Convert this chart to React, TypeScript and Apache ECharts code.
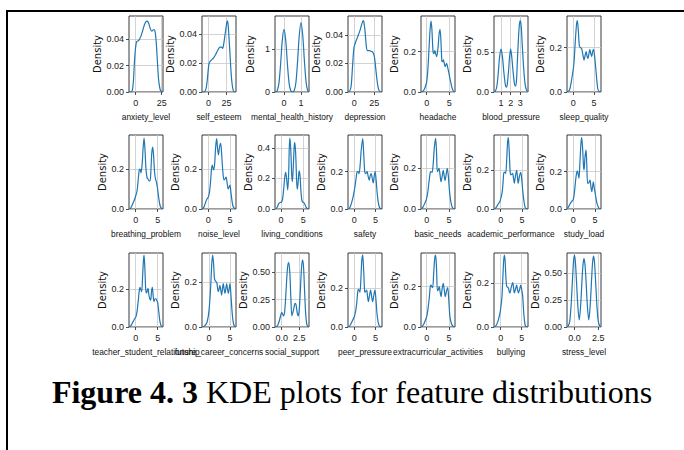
import React, { useEffect, useRef } from "react";
import * as echarts from "echarts";

// ---------- DATA ----------
const features = [
  "anxiety_level", "self_esteem", "mental_health_history", "depression", "headache", "blood_pressure", "sleep_quality",
  "breathing_problem", "noise_level", "living_conditions", "safety", "basic_needs", "academic_performance", "study_load",
  "teacher_student_relationship", "future_career_concerns", "social_support", "peer_pressure", "extracurricular_activities", "bullying", "stress_level",
];

const xMinValues = [-6.4, -9, -0.53, -7.9, -1.26, 0.27, -1.53, -1.52, -1.45, -1.34, -1.48, -1.27, -1.56, -1.46, -1.52, -1.67, -0.95, -1.48, -1.27, -1.6, -0.78];
const xMaxValues = [26.3, 38, 1.47, 34.6, 6.25, 3.8, 6.7, 6.2, 6.4, 6.26, 6.5, 6.33, 6.4, 6.38, 6.2, 6.43, 3.88, 6.5, 6.33, 6.5, 2.78];
const yMaxValues = [0.0574, 0.0524, 1.76, 0.0533, 0.377, 0.957, 0.343, 0.37, 0.37, 0.485, 0.397, 0.364, 0.384, 0.397, 0.393, 0.331, 0.673, 0.382, 0.367, 0.336, 0.685];

const xTickValues = [
  [0, 25], [0, 25], [0, 1], [0, 25], [0, 5], [1, 2, 3], [0, 5],
  [0, 5], [0, 5], [0, 5], [0, 5], [0, 5], [0, 5], [0, 5],
  [0, 5], [0, 5], [0, 2.5], [0, 5], [0, 5], [0, 5], [0, 2.5],
];
const xTickDecimals = [0, 0, 0, 0, 0, 0, 0, 0, 0, 0, 0, 0, 0, 0, 0, 0, 1, 0, 0, 0, 1];
const yTickValues = [
  [0, 0.02, 0.04], [0, 0.02, 0.04], [0, 1], [0, 0.02, 0.04], [0, 0.2], [0, 0.5], [0, 0.2],
  [0, 0.2], [0, 0.2], [0, 0.2, 0.4], [0, 0.2], [0, 0.2], [0, 0.2], [0, 0.2],
  [0, 0.2], [0, 0.2], [0, 0.25, 0.5], [0, 0.2], [0, 0.2], [0, 0.2], [0, 0.25, 0.5],
];
const yTickDecimals = [2, 2, 0, 2, 1, 1, 1, 1, 1, 1, 1, 1, 1, 1, 1, 1, 2, 1, 1, 1, 2];

const anxietyLevel = [[-6,0],[-4,0.0003],[-3,0.002],[-2,0.01],[-1,0.025],[0,0.034],[1,0.038],[3,0.039],[5,0.042],[7,0.047],[9,0.052],[11,0.0535],[12.5,0.052],[14,0.048],[15.5,0.046],[17,0.047],[18,0.047],[19,0.044],[20,0.035],[21,0.022],[22,0.01],[23,0.004],[24,0.001],[26,0]];
const selfEsteem = [[-9,0],[-6,0],[-4,0.0015],[-2.5,0.005],[-1,0.012],[0.5,0.019],[2,0.021],[4,0.022],[7,0.0235],[10,0.026],[13,0.029],[16,0.031],[18,0.031],[19.5,0.030],[21,0.033],[23,0.040],[25,0.047],[26,0.049],[27,0.047],[28,0.040],[29.5,0.028],[31,0.015],[32.5,0.006],[34,0.0015],[36,0],[38,0]];
const mentalHealthHistory = [[-0.53,0],[-0.45,0.01],[-0.4,0.03],[-0.3,0.2],[-0.2,0.65],[-0.1,1.2],[0,1.45],[0.1,1.2],[0.2,0.65],[0.3,0.2],[0.4,0.03],[0.5,0.005],[0.6,0.03],[0.7,0.22],[0.8,0.72],[0.9,1.32],[1.0,1.61],[1.1,1.32],[1.2,0.72],[1.3,0.22],[1.4,0.03],[1.47,0.005]];
const depression = [[-8,0],[-6,0.0005],[-4,0.004],[-2,0.02],[-0.5,0.031],[1,0.034],[3,0.037],[5,0.040],[7,0.043],[9,0.047],[11,0.050],[12,0.049],[13.5,0.042],[15,0.032],[16.5,0.029],[19,0.029],[21,0.0285],[23,0.028],[25,0.025],[26.5,0.018],[28,0.010],[29.5,0.004],[31,0.001],[33,0],[34.5,0]];
const headache = [[-1.25,0],[-1,0.002],[-0.75,0.006],[-0.5,0.015],[-0.25,0.03],[0,0.05],[0.25,0.11],[0.5,0.21],[0.75,0.31],[0.95,0.352],[1.15,0.31],[1.4,0.2],[1.6,0.19],[1.8,0.205],[2.0,0.19],[2.2,0.175],[2.5,0.22],[2.75,0.29],[2.95,0.31],[3.15,0.25],[3.35,0.155],[3.5,0.15],[3.7,0.16],[3.9,0.14],[4.1,0.126],[4.4,0.142],[4.6,0.125],[4.85,0.10],[5.1,0.07],[5.3,0.05],[5.6,0.02],[5.9,0.005],[6.25,0]];
const bloodPressure = [[0.27,0],[0.4,0.01],[0.55,0.06],[0.7,0.22],[0.85,0.44],[1.0,0.54],[1.15,0.44],[1.3,0.24],[1.45,0.09],[1.55,0.06],[1.65,0.1],[1.8,0.3],[1.9,0.46],[2.0,0.54],[2.1,0.46],[2.25,0.26],[2.4,0.1],[2.5,0.075],[2.6,0.14],[2.7,0.4],[2.8,0.65],[2.9,0.84],[3.0,0.9],[3.1,0.82],[3.2,0.6],[3.35,0.3],[3.5,0.1],[3.65,0.02],[3.8,0]];
const sleepQuality = [[-1.5,0],[-1.2,0.003],[-0.9,0.01],[-0.55,0.04],[-0.2,0.08],[0.15,0.13],[0.45,0.22],[0.75,0.3],[0.97,0.322],[1.2,0.28],[1.45,0.21],[1.7,0.2],[2.0,0.197],[2.3,0.17],[2.6,0.144],[2.85,0.165],[3.1,0.182],[3.35,0.16],[3.55,0.152],[3.8,0.175],[4.0,0.193],[4.2,0.175],[4.45,0.16],[4.65,0.18],[4.85,0.193],[5.1,0.17],[5.4,0.114],[5.65,0.06],[5.9,0.017],[6.2,0.003],[6.7,0]];
const breathingProblem = [[-1.5,0],[-1.2,0.003],[-0.9,0.015],[-0.6,0.03],[-0.3,0.045],[0,0.065],[0.3,0.09],[0.55,0.14],[0.8,0.195],[1.0,0.2],[1.2,0.18],[1.45,0.22],[1.7,0.31],[1.9,0.355],[2.1,0.3],[2.35,0.195],[2.6,0.155],[2.8,0.15],[3.05,0.14],[3.25,0.14],[3.45,0.19],[3.65,0.28],[3.86,0.31],[4.05,0.27],[4.3,0.18],[4.5,0.15],[4.7,0.135],[4.95,0.105],[5.2,0.06],[5.5,0.02],[5.8,0.004],[6.2,0]];
const noiseLevel = [[-1.45,0],[-1.2,0.003],[-0.9,0.015],[-0.6,0.035],[-0.3,0.05],[0,0.06],[0.25,0.08],[0.5,0.13],[0.75,0.2],[0.95,0.22],[1.2,0.195],[1.45,0.22],[1.7,0.31],[1.93,0.352],[2.15,0.3],[2.35,0.27],[2.6,0.31],[2.86,0.328],[3.1,0.27],[3.35,0.19],[3.63,0.145],[3.85,0.15],[4.1,0.16],[4.35,0.13],[4.6,0.1],[4.8,0.11],[5.0,0.12],[5.2,0.09],[5.45,0.045],[5.7,0.015],[6.0,0.004],[6.4,0]];
const livingConditions = [[-1.34,0],[-1.1,0.003],[-0.8,0.015],[-0.5,0.035],[-0.2,0.042],[0.1,0.045],[0.35,0.065],[0.6,0.13],[0.85,0.21],[1.05,0.24],[1.25,0.2],[1.5,0.125],[1.7,0.22],[1.85,0.4],[2.0,0.464],[2.2,0.38],[2.4,0.22],[2.55,0.18],[2.75,0.28],[2.95,0.41],[3.1,0.435],[3.3,0.35],[3.5,0.18],[3.65,0.13],[3.85,0.18],[4.05,0.25],[4.25,0.22],[4.45,0.12],[4.65,0.06],[4.85,0.045],[5.1,0.042],[5.35,0.03],[5.6,0.012],[5.9,0.002],[6.26,0]];
const safety = [[-1.48,0],[-1.2,0.003],[-0.9,0.015],[-0.5,0.045],[-0.2,0.075],[0.15,0.12],[0.45,0.17],[0.7,0.2],[0.9,0.2],[1.1,0.19],[1.35,0.23],[1.6,0.31],[1.97,0.378],[2.2,0.3],[2.45,0.2],[2.7,0.19],[3.0,0.2],[3.25,0.175],[3.5,0.155],[3.75,0.18],[3.97,0.19],[4.2,0.165],[4.45,0.14],[4.7,0.18],[4.9,0.2],[5.1,0.16],[5.35,0.09],[5.6,0.04],[5.85,0.012],[6.1,0.003],[6.5,0]];
const basicNeeds = [[-1.27,0],[-1.0,0.004],[-0.7,0.015],[-0.4,0.03],[-0.1,0.045],[0.2,0.075],[0.52,0.134],[0.8,0.18],[0.96,0.184],[1.2,0.18],[1.45,0.22],[1.7,0.3],[2.0,0.347],[2.2,0.28],[2.37,0.184],[2.55,0.19],[2.75,0.2],[2.95,0.175],[3.2,0.134],[3.45,0.16],[3.7,0.19],[3.9,0.165],[4.1,0.14],[4.35,0.17],[4.6,0.2],[4.85,0.16],[5.05,0.1],[5.3,0.05],[5.55,0.02],[5.8,0.005],[6.33,0]];
const academicPerformance = [[-1.56,0],[-1.3,0.003],[-1.0,0.01],[-0.6,0.025],[-0.2,0.038],[0.1,0.06],[0.37,0.09],[0.6,0.15],[0.77,0.19],[1.0,0.19],[1.17,0.185],[1.4,0.25],[1.6,0.34],[1.78,0.372],[2.0,0.3],[2.2,0.2],[2.34,0.177],[2.55,0.18],[2.8,0.185],[3.0,0.16],[3.2,0.134],[3.45,0.17],[3.75,0.2],[3.95,0.16],[4.1,0.134],[4.4,0.17],[4.7,0.19],[4.95,0.15],[5.15,0.1],[5.4,0.05],[5.7,0.01],[6.0,0.002],[6.4,0]];
const studyLoad = [[-1.46,0],[-1.2,0.008],[-0.77,0.027],[-0.4,0.04],[0,0.052],[0.3,0.1],[0.62,0.173],[0.92,0.205],[1.1,0.19],[1.3,0.165],[1.5,0.24],[1.75,0.35],[1.93,0.383],[2.15,0.32],[2.35,0.23],[2.47,0.21],[2.7,0.28],[2.93,0.316],[3.1,0.24],[3.3,0.138],[3.55,0.14],[3.85,0.155],[4.05,0.12],[4.25,0.093],[4.45,0.12],[4.6,0.145],[4.85,0.11],[5.17,0.066],[5.45,0.03],[5.77,0.01],[6.0,0.003],[6.38,0]];
const teacherStudentRelationship = [[-1.52,0],[-1.2,0.004],[-0.9,0.015],[-0.55,0.03],[-0.2,0.045],[0.07,0.055],[0.35,0.09],[0.6,0.143],[0.8,0.19],[0.98,0.21],[1.15,0.2],[1.36,0.187],[1.55,0.26],[1.75,0.35],[1.89,0.382],[2.05,0.33],[2.25,0.21],[2.4,0.18],[2.6,0.19],[2.8,0.205],[3.0,0.17],[3.2,0.15],[3.4,0.143],[3.6,0.19],[3.78,0.21],[3.95,0.17],[4.16,0.135],[4.4,0.15],[4.6,0.15],[4.8,0.14],[5.0,0.13],[5.25,0.08],[5.5,0.03],[5.8,0.006],[6.2,0]];
const futureCareerConcerns = [[-1.67,0],[-1.3,0.002],[-1.0,0.006],[-0.55,0.017],[-0.2,0.045],[0.08,0.09],[0.4,0.18],[0.65,0.28],[0.87,0.322],[1.1,0.28],[1.3,0.215],[1.55,0.205],[1.83,0.2],[2.0,0.18],[2.2,0.158],[2.4,0.17],[2.6,0.186],[2.8,0.165],[3.0,0.143],[3.2,0.17],[3.4,0.194],[3.6,0.17],[3.8,0.15],[4.0,0.17],[4.2,0.194],[4.4,0.17],[4.6,0.15],[4.8,0.17],[5.0,0.194],[5.2,0.15],[5.45,0.08],[5.7,0.03],[6.0,0.006],[6.43,0]];
const socialSupport = [[-0.95,0],[-0.7,0.005],[-0.5,0.025],[-0.3,0.065],[-0.1,0.115],[0.0,0.13],[0.12,0.12],[0.25,0.1],[0.4,0.13],[0.55,0.25],[0.7,0.42],[0.85,0.55],[1.0,0.585],[1.15,0.5],[1.3,0.27],[1.45,0.1],[1.55,0.1],[1.7,0.16],[1.9,0.215],[2.05,0.2],[2.2,0.13],[2.35,0.1],[2.5,0.16],[2.65,0.33],[2.8,0.52],[2.95,0.61],[3.1,0.55],[3.25,0.33],[3.4,0.13],[3.55,0.03],[3.7,0.005],[3.88,0]];
const peerPressure = [[-1.48,0],[-1.2,0.003],[-0.9,0.012],[-0.5,0.03],[0,0.053],[0.3,0.08],[0.56,0.122],[0.8,0.18],[0.94,0.195],[1.15,0.19],[1.33,0.18],[1.55,0.25],[1.75,0.34],[1.97,0.372],[2.2,0.29],[2.4,0.19],[2.5,0.18],[2.7,0.185],[2.9,0.19],[3.1,0.16],[3.3,0.131],[3.55,0.16],[3.84,0.19],[4.05,0.16],[4.3,0.131],[4.55,0.16],[4.84,0.19],[5.05,0.15],[5.25,0.09],[5.4,0.053],[5.7,0.015],[6.0,0.003],[6.5,0]];
const extracurricularActivities = [[-1.27,0],[-1.0,0.004],[-0.7,0.012],[-0.35,0.03],[0,0.051],[0.3,0.09],[0.6,0.15],[0.8,0.2],[0.96,0.208],[1.15,0.2],[1.34,0.195],[1.55,0.26],[1.8,0.34],[2.0,0.357],[2.2,0.29],[2.4,0.18],[2.6,0.185],[2.8,0.2],[3.0,0.175],[3.2,0.15],[3.45,0.19],[3.7,0.217],[3.95,0.18],[4.16,0.15],[4.45,0.18],[4.7,0.195],[4.95,0.13],[5.2,0.051],[5.5,0.02],[5.8,0.005],[6.33,0]];
const bullying = [[-1.6,0],[-1.3,0.003],[-1.0,0.01],[-0.6,0.03],[-0.17,0.064],[0.1,0.1],[0.3,0.14],[0.5,0.22],[0.7,0.3],[0.87,0.327],[1.05,0.3],[1.25,0.22],[1.43,0.184],[1.65,0.18],[1.83,0.177],[2.05,0.16],[2.2,0.155],[2.5,0.18],[2.86,0.202],[3.05,0.18],[3.24,0.155],[3.5,0.17],[3.8,0.19],[4.0,0.17],[4.2,0.155],[4.5,0.17],[4.76,0.19],[5.0,0.17],[5.24,0.14],[5.5,0.06],[5.8,0.01],[6.1,0.002],[6.5,0]];
const stressLevel = [[-0.78,0],[-0.65,0.01],[-0.5,0.05],[-0.35,0.2],[-0.2,0.45],[-0.1,0.6],[0,0.667],[0.1,0.6],[0.2,0.45],[0.35,0.2],[0.5,0.065],[0.65,0.2],[0.8,0.45],[0.9,0.58],[1.0,0.636],[1.1,0.58],[1.2,0.45],[1.35,0.2],[1.5,0.065],[1.65,0.2],[1.8,0.45],[1.9,0.6],[2.0,0.657],[2.1,0.6],[2.2,0.45],[2.35,0.2],[2.5,0.05],[2.65,0.01],[2.78,0]];

const curves = [
  anxietyLevel, selfEsteem, mentalHealthHistory, depression, headache, bloodPressure, sleepQuality,
  breathingProblem, noiseLevel, livingConditions, safety, basicNeeds, academicPerformance, studyLoad,
  teacherStudentRelationship, futureCareerConcerns, socialSupport, peerPressure, extracurricularActivities, bullying, stressLevel,
];

const captionBold = "Figure 4. 3";
const captionText = " KDE plots for feature distributions";

// ---------- LAYOUT ----------
const COL_LEFT = 129;
const COL_STEP = 73;
const PLOT_W = 34;
const ROW_TOP = [16, 135, 253];
const ROW_H = [76, 74, 74];
const NARROW = "'Liberation Sans', Arial, sans-serif";
const SANS = "'DejaVu Sans', sans-serif";
const SERIF = "'Liberation Serif', 'Times New Roman', serif";

function buildOption() {
  const grid: any[] = [];
  const xAxis: any[] = [];
  const yAxis: any[] = [];
  const series: any[] = [];
  features.forEach((name, i) => {
    const r = Math.floor(i / 7);
    const c = i % 7;
    grid.push({
      left: COL_LEFT + COL_STEP * c,
      top: ROW_TOP[r],
      width: PLOT_W,
      height: ROW_H[r],
      show: true,
      borderColor: "#222",
      borderWidth: 0.9,
      backgroundColor: "transparent",
      containLabel: false,
    });
    const xd = xTickDecimals[i];
    const yd = yTickDecimals[i];
    xAxis.push({
      type: "value",
      gridIndex: i,
      min: xMinValues[i],
      max: xMaxValues[i],
      name,
      nameLocation: "middle",
      nameGap: 21,
      nameTextStyle: { fontFamily: NARROW, fontSize: 8.4, color: "#111" },
      axisLine: { show: false, onZero: false },
      axisTick: { show: true, length: 3, customValues: xTickValues[i], lineStyle: { color: "#222", width: 0.8 } },
      axisLabel: {
        customValues: xTickValues[i],
        formatter: (v: number) => v.toFixed(xd),
        fontFamily: NARROW,
        fontSize: 9,
        color: "#222",
        margin: 6,
      },
      splitLine: { show: true, lineStyle: { color: "#c8c8c8", width: 0.8 } },
    });
    yAxis.push({
      type: "value",
      gridIndex: i,
      min: 0,
      max: yMaxValues[i],
      name: "Density",
      nameLocation: "middle",
      nameGap: 20,
      nameTextStyle: { fontFamily: SANS, fontSize: 10, color: "#111" },
      axisLine: { show: false, onZero: false },
      axisTick: { show: true, length: 3, customValues: yTickValues[i], lineStyle: { color: "#222", width: 0.8 } },
      axisLabel: {
        customValues: yTickValues[i],
        formatter: (v: number) => v.toFixed(yd),
        fontFamily: NARROW,
        fontSize: 9,
        color: "#222",
        margin: 5,
      },
      splitLine: { show: true, lineStyle: { color: "#c8c8c8", width: 0.8 } },
    });
    series.push({
      type: "line",
      xAxisIndex: i,
      yAxisIndex: i,
      data: curves[i],
      showSymbol: false,
      smooth: 0.3,
      lineStyle: { color: "#1f77b4", width: 1.2 },
      silent: true,
    });
  });

  return {
    animation: false,
    backgroundColor: "#fff",
    grid,
    xAxis,
    yAxis,
    series,
    graphic: [
      { type: "line", shape: { x1: 7, y1: 11, x2: 684, y2: 11 }, style: { stroke: "#000", lineWidth: 2 } },
      { type: "line", shape: { x1: 7, y1: 10, x2: 7, y2: 450 }, style: { stroke: "#000", lineWidth: 2 } },
      {
        type: "text",
        x: 352,
        y: 392,
        style: {
          text: "{b|" + captionBold + "}" + captionText,
          align: "center",
          verticalAlign: "middle",
          fontFamily: SERIF,
          fontSize: 32,
          fill: "#000",
          rich: { b: { fontFamily: SERIF, fontSize: 32, fontWeight: "bold", fill: "#000" } },
        },
      },
    ],
  };
}

export default function App() {
  const ref = useRef<HTMLDivElement>(null);
  useEffect(() => {
    document.body.style.margin = "0";
    if (!ref.current) return;
    const chart = echarts.init(ref.current, null, { renderer: "svg" });
    chart.setOption(buildOption() as any);
    return () => chart.dispose();
  }, []);
  return <div ref={ref} style={{ width: 684, height: 450 }} />;
}
